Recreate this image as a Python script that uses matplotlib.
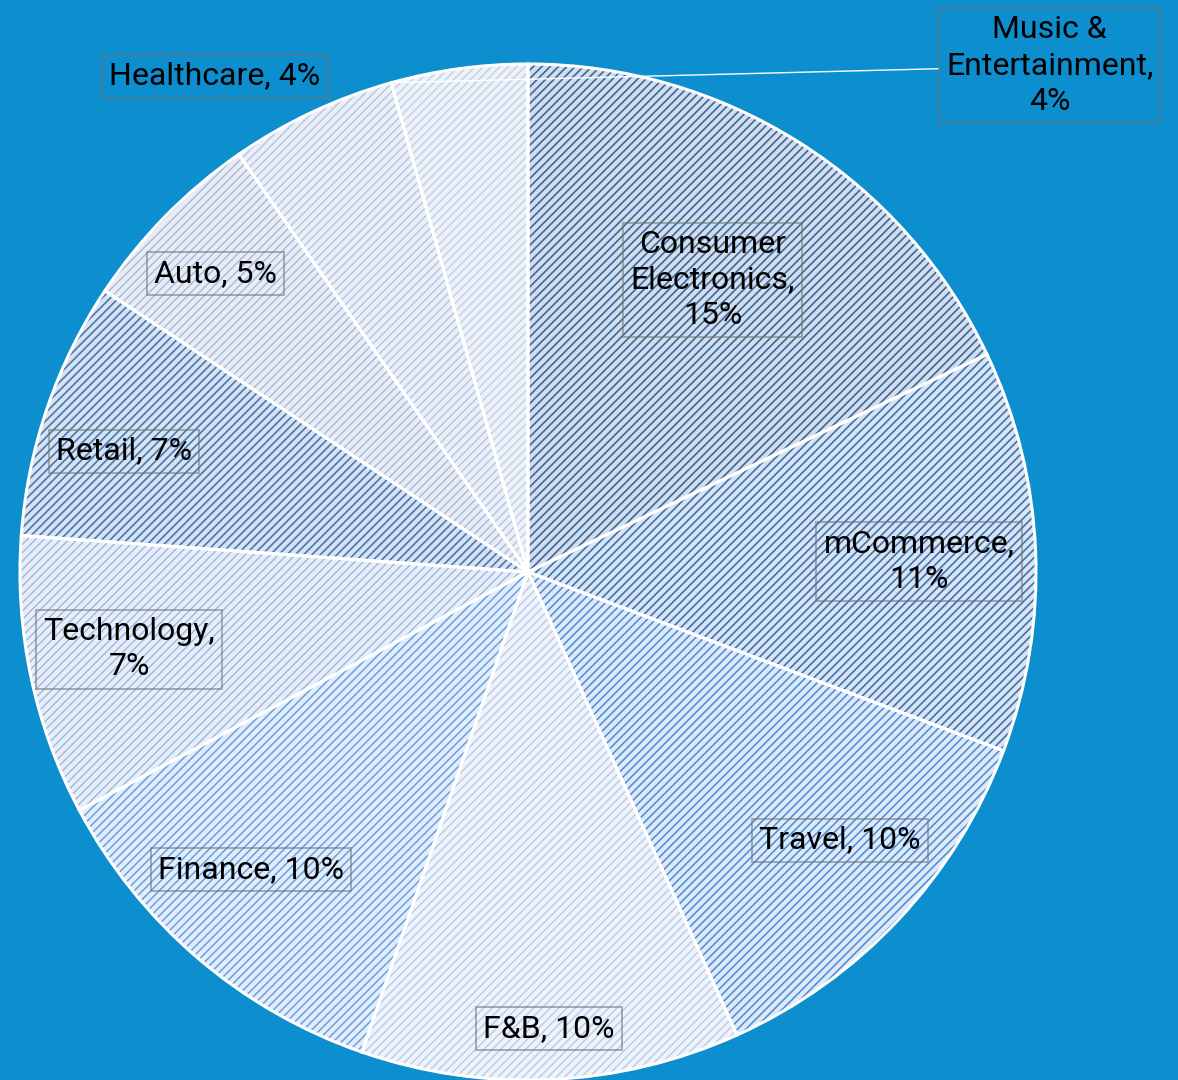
import matplotlib.pyplot as plt
from matplotlib.patches import Wedge
import numpy as np

# share of campaigns by industry (clockwise from 12 o'clock)
sectors = ['Consumer\nElectronics', 'mCommerce', 'Travel', 'F&B', 'Finance',
           'Technology', 'Retail', 'Auto', 'Healthcare', 'Music &\nEntertainment']
values = [14.9, 10.6, 10.4, 10.0, 9.9, 7.4, 6.8, 5.0, 4.4, 3.6]
# Excel wrapped some labels after the comma
label_sep = [',\n', ',\n', ', ', ', ', ', ', ',\n', ', ', ', ', ', ', ',\n']

# pattern fill: light background + diagonal hatch colour / weight
fill_colors = ['#d3deec', '#d9e4f1', '#dde9f7', '#eef2fa', '#e3edf9',
               '#e8eef8', '#d8e3f0', '#e7ecf5', '#eaeff8', '#edf1f8']
hatch_colors = ['#3b679c', '#3d71b3', '#4a89d6', '#b7cae6', '#65a0e2',
                '#9bb7e1', '#4677b7', '#a7b8d8', '#b4c4e1', '#c1cfe7']
hatch_widths = [1.2, 1.2, 1.1, 1.0, 1.1, 1.0, 1.2, 1.0, 1.0, 1.0]

BG = '#0d8ecf'
W, H = 1178, 1080
CX, CY, R = 528, 508, 508
FS = 23

plt.rcParams['font.family'] = ['Roboto', 'DejaVu Sans']

fig = plt.figure(figsize=(W / 100, H / 100), dpi=100, facecolor=BG)
ax = fig.add_axes([0, 0, 1, 1])

common = dict(startangle=90, counterclock=False, center=(CX, CY), radius=R)
n = len(values)

# solid fill first
wedges, _ = ax.pie(values, colors=fill_colors, wedgeprops=dict(linewidth=0), **common)

# hatch layer, one copy per wedge so each can have its own line weight
for w, hc, hw in zip(wedges, hatch_colors, hatch_widths):
    with plt.rc_context({'hatch.linewidth': hw}):
        hp = Wedge(w.center, w.r, w.theta1, w.theta2, facecolor='none',
                   edgecolor=hc, linewidth=0, hatch='////')
    if hasattr(hp, 'set_hatch_linewidth'):
        hp.set_hatch_linewidth(hw)
    ax.add_patch(hp)

# white outlines on top
ax.pie(values, colors=['none'] * n,
       wedgeprops=dict(edgecolor='white', linewidth=2.2), **common)

ax.set_xlim(0, W)
ax.set_ylim(0, H)
ax.set_aspect('equal')
ax.axis('off')

box = dict(boxstyle='square,pad=0.22', fc='none', ec=(0.45, 0.45, 0.45, 0.6), lw=1.3)

# in-pie labels: radial position (fraction of radius) and angular nudge (deg)
label_r = [0.68, 0.77, 0.81, 0.90, 0.80, 0.80, 0.83, 0.85]
label_shift = [0, -0.8, 2.5, 0, -2.4, -1.0, 2.2, 0.8]
# labels placed outside the pie (axes fraction)
outside = {8: (0.1825, 0.9296), 9: (0.891, 0.939)}

for i, (name, v, sep) in enumerate(zip(sectors, values, label_sep)):
    txt = f'{name}{sep}{v:.0f}%'
    w = wedges[i]
    if i in outside:
        if i == 9:
            top = np.deg2rad(w.theta2)
            ax.annotate(txt, xy=(CX + R * np.cos(top), CY + R * np.sin(top)),
                        xytext=outside[i], textcoords='axes fraction',
                        ha='center', va='center', fontsize=FS, color='black',
                        linespacing=1.3, bbox=box,
                        arrowprops=dict(arrowstyle='-', color='white', lw=1,
                                        shrinkA=0, shrinkB=0))
        else:
            ax.text(*outside[i], txt, transform=ax.transAxes, ha='center',
                    va='center', fontsize=FS, color='black', bbox=box)
    else:
        ang = np.deg2rad((w.theta1 + w.theta2) / 2 + label_shift[i])
        r = label_r[i] * R
        ax.text(CX + r * np.cos(ang), CY + r * np.sin(ang), txt, ha='center',
                va='center', fontsize=FS, color='black', linespacing=1.3,
                bbox=box)

fig.savefig('out.png', dpi=100, facecolor=BG)
